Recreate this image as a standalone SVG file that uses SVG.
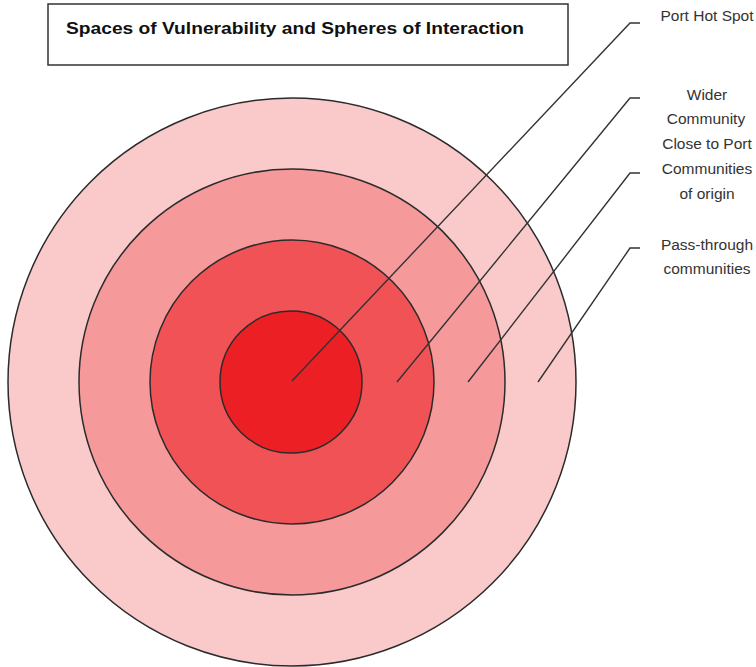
<svg xmlns="http://www.w3.org/2000/svg" width="756" height="667" viewBox="0 0 756 667">
<style>
.ring{stroke:#2b2b2b;stroke-width:1.5}
.lbl{font-family:"Liberation Sans",Arial,sans-serif;font-size:15.5px;fill:#333;text-anchor:middle}
.conn{fill:none;stroke:#333;stroke-width:1.4}
</style>
<rect width="756" height="667" fill="#fff"/>
<g id="title">
<rect x="48" y="4" width="520" height="61" fill="#fff" stroke="#333" stroke-width="1.5"/>
<text x="66" y="34" font-family="Liberation Sans,Arial,sans-serif" font-weight="bold" font-size="17" fill="#111" textLength="458" lengthAdjust="spacingAndGlyphs">Spaces of Vulnerability and Spheres of Interaction</text>
</g>
<g id="pass-through">
<circle cx="292" cy="382" r="284" class="ring" fill="#FACACB"/>
</g>
<g id="origin">
<circle cx="292" cy="382" r="213" class="ring" fill="#F5999B"/>
</g>
<g id="wider">
<circle cx="292" cy="382" r="142" class="ring" fill="#F05256"/>
</g>
<g id="hotspot">
<circle cx="291" cy="382" r="71" class="ring" fill="#EC2024"/>
</g>
<g id="connectors">
<polyline class="conn" points="292,381 630,23 640,23"/>
<polyline class="conn" points="397,382 630,98 640,98"/>
<polyline class="conn" points="468,382 630,173 640,173"/>
<polyline class="conn" points="538,382 630,248 640,248"/>
</g>
<g id="labels">
<text class="lbl" x="707" y="21">Port Hot Spot</text>
<text class="lbl" x="707" y="100">Wider</text>
<text class="lbl" x="706" y="124">Community</text>
<text class="lbl" x="707" y="149">Close to Port</text>
<text class="lbl" x="707" y="174">Communities</text>
<text class="lbl" x="707" y="199">of origin</text>
<text class="lbl" x="707" y="250">Pass-through</text>
<text class="lbl" x="707" y="274">communities</text>
</g>
</svg>
